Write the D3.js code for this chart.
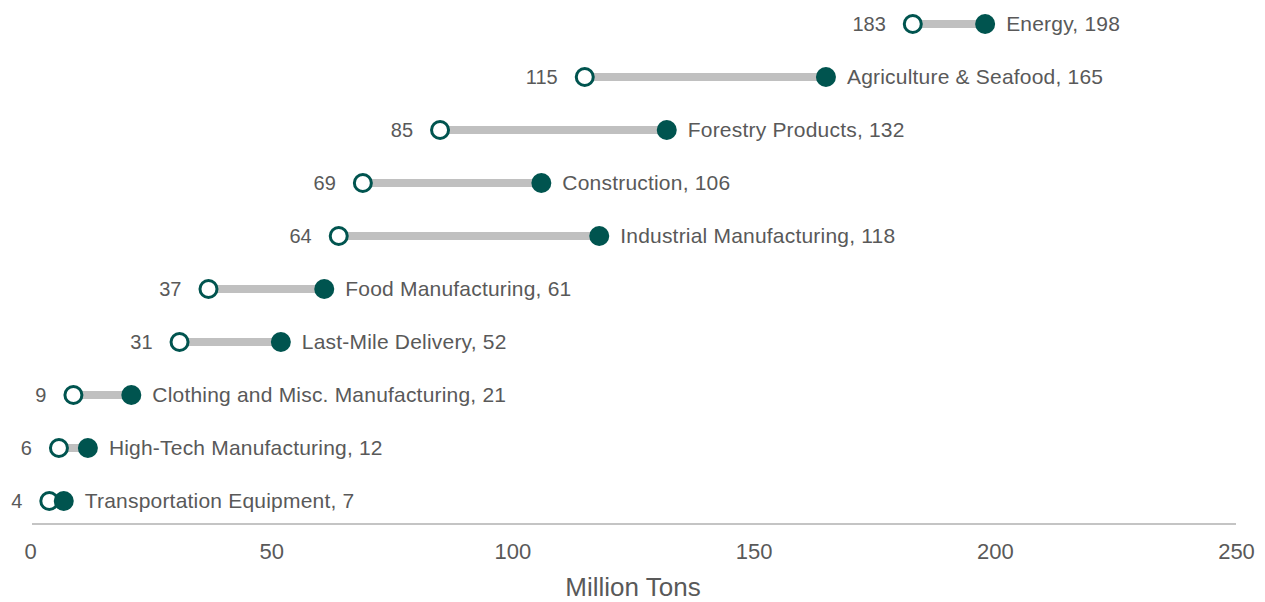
<!DOCTYPE html>
<html>
<head>
<meta charset="utf-8">
<script src="https://cdn.jsdelivr.net/npm/d3@7"></script>
<style>
  html, body { margin: 0; padding: 0; background: #ffffff; }
  svg { display: block; font-family: "Liberation Sans", Arial, sans-serif; }
</style>
</head>
<body>
<svg id="chart" width="1265" height="602"></svg>
<script>
// Freight volume by industry: earlier value (open marker) vs. later value (filled marker)
const categories = [
  "Energy",
  "Agriculture & Seafood",
  "Forestry Products",
  "Construction",
  "Industrial Manufacturing",
  "Food Manufacturing",
  "Last-Mile Delivery",
  "Clothing and Misc. Manufacturing",
  "High-Tech Manufacturing",
  "Transportation Equipment"
];
const startValues = [183, 115, 85, 69, 64, 37, 31, 9, 6, 4];
const endValues   = [198, 165, 132, 106, 118, 61, 52, 21, 12, 7];
const xTicks = [0, 50, 100, 150, 200, 250];
const axisTitle = "Million Tons";

const rows = categories.map((c, i) => ({ name: c, start: startValues[i], end: endValues[i] }));

const teal = "#00544f";
const lineGrey = "#c0c0c0";
const textGrey = "#595959";

const svg = d3.select("#chart");

const x = d3.scaleLinear().domain([0, 250]).range([30, 1236]);
const y = d3.scalePoint().domain(categories).range([24, 501]);

// Baseline axis with tick labels only
const axisY = 524;
const axis = svg.append("g")
  .attr("transform", `translate(0,${axisY})`)
  .call(d3.axisBottom(x).tickValues(xTicks).tickSize(0).tickPadding(24));
axis.select(".domain")
  .attr("d", `M${x(0) + 2},0H${x(250)}`)
  .attr("stroke", "#c4c4c4")
  .attr("stroke-width", 2);
axis.selectAll(".tick text")
  .attr("fill", textGrey)
  .attr("font-size", 22)
  .attr("font-family", "Liberation Sans, Arial, sans-serif")
  .attr("dy", "0.5em");

svg.append("text")
  .attr("x", (x(0) + x(250)) / 2)
  .attr("y", 596)
  .attr("text-anchor", "middle")
  .attr("fill", textGrey)
  .attr("font-size", 26)
  .text(axisTitle);

const g = svg.append("g");

// Connector bars
g.selectAll("line.link")
  .data(rows)
  .join("line")
  .attr("class", "link")
  .attr("x1", d => x(d.start))
  .attr("x2", d => x(d.end))
  .attr("y1", d => y(d.name))
  .attr("y2", d => y(d.name))
  .attr("stroke", lineGrey)
  .attr("stroke-width", 8);

// Start markers (hollow)
g.selectAll("circle.start")
  .data(rows)
  .join("circle")
  .attr("class", "start")
  .attr("cx", d => x(d.start))
  .attr("cy", d => y(d.name))
  .attr("r", 8.5)
  .attr("fill", "#ffffff")
  .attr("stroke", teal)
  .attr("stroke-width", 3);

// End markers (filled)
g.selectAll("circle.end")
  .data(rows)
  .join("circle")
  .attr("class", "end")
  .attr("cx", d => x(d.end))
  .attr("cy", d => y(d.name))
  .attr("r", 10)
  .attr("fill", teal);

// Start value labels
g.selectAll("text.startLabel")
  .data(rows)
  .join("text")
  .attr("class", "startLabel")
  .attr("x", d => x(d.start) - 27)
  .attr("y", d => y(d.name))
  .attr("dy", "0.35em")
  .attr("text-anchor", "end")
  .attr("fill", textGrey)
  .attr("font-size", 20)
  .text(d => d.start);

// Category and end value labels
g.selectAll("text.endLabel")
  .data(rows)
  .join("text")
  .attr("class", "endLabel")
  .attr("x", d => x(d.end) + 21)
  .attr("y", d => y(d.name))
  .attr("dy", "0.35em")
  .attr("text-anchor", "start")
  .attr("fill", textGrey)
  .attr("font-size", 21)
  .attr("letter-spacing", 0.2)
  .text(d => `${d.name}, ${d.end}`);
</script>
</body>
</html>
